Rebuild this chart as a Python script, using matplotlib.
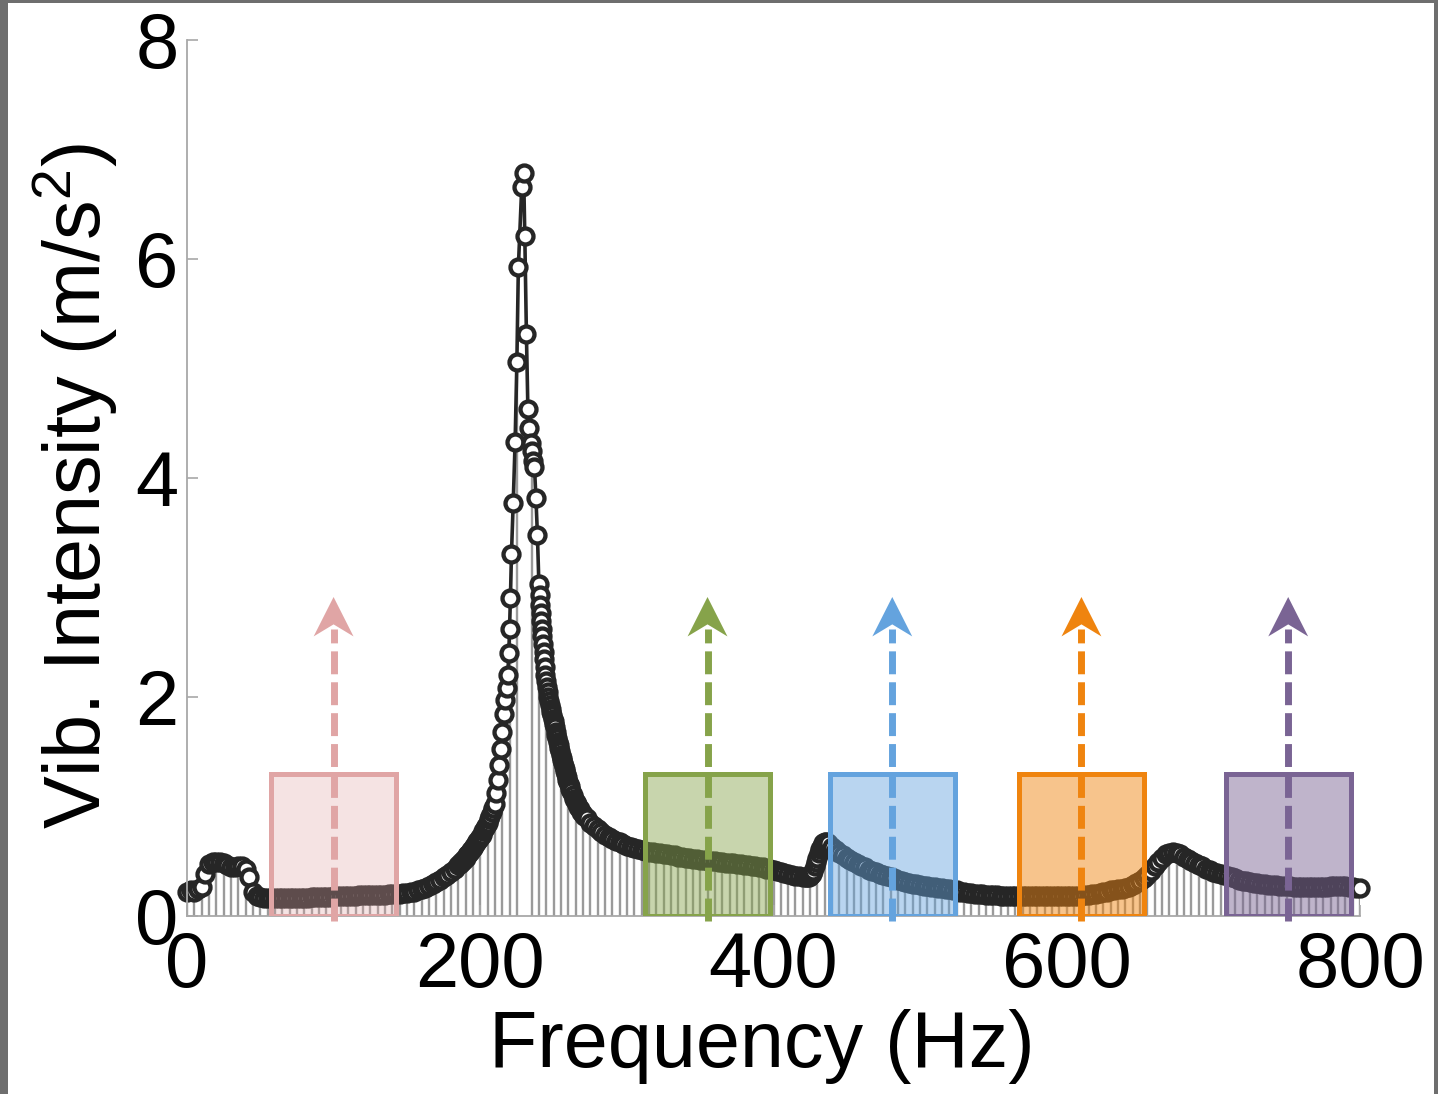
import numpy as np
import matplotlib.pyplot as plt
from matplotlib.patches import Rectangle, Polygon

plt.rcParams['font.family'] = ['Liberation Sans', 'DejaVu Sans']
plt.rcParams['mathtext.fontset'] = 'custom'
plt.rcParams['mathtext.rm'] = 'Liberation Sans'
plt.rcParams['mathtext.it'] = 'Liberation Sans:italic'

# vibration spectrum, values (finer steps where the curve is steep)
freq_a = np.arange(0, 185, 2.5)
vib_a = [0.22, 0.23, 0.22, 0.24, 0.26, 0.38, 0.47, 0.49, 0.49, 0.49,
         0.48, 0.46, 0.44, 0.44, 0.45, 0.45, 0.43, 0.35, 0.22, 0.18,
         0.17, 0.16, 0.16, 0.16, 0.16, 0.16, 0.16, 0.16, 0.16, 0.16,
         0.16, 0.16, 0.16, 0.16, 0.17, 0.17, 0.17, 0.17, 0.17, 0.17,
         0.18, 0.18, 0.18, 0.18, 0.18, 0.18, 0.18, 0.19, 0.19, 0.19,
         0.19, 0.19, 0.19, 0.19, 0.19, 0.20, 0.20, 0.20, 0.20, 0.21,
         0.21, 0.22, 0.22, 0.23, 0.24, 0.25, 0.27, 0.29, 0.31, 0.33,
         0.35, 0.37, 0.40, 0.43]

freq_b = np.arange(185, 210, 1)
vib_b = [0.46, 0.47, 0.49, 0.50, 0.52, 0.53, 0.55, 0.56, 0.58, 0.60,
         0.62, 0.64, 0.66, 0.68, 0.70, 0.72, 0.74, 0.77, 0.80, 0.82,
         0.85, 0.88, 0.91, 0.95, 0.98]

freq_peak = [210, 211, 212, 213, 214, 215, 216, 217, 218, 218.8,
             219.5, 220, 220.6, 221.3, 222.5, 223.8, 225, 226, 228.3, 229.6,
             230.4, 231.5, 232.5, 233.5, 234.5, 235, 236, 237, 238, 239,
             240, 240.5, 240.8, 241.2, 241.6, 242, 242.4, 242.8, 243.2, 243.6,
             244, 244.5, 245, 245.5, 246,
             246.5, 247, 247.5, 248, 248.5, 249, 249.5, 250, 250.5, 251,
             251.5, 252, 252.5, 253, 253.5, 254, 254.5, 255, 255.5, 256,
             256.5, 257, 257.5, 258, 258.5, 259, 259.5, 260, 260.5, 261,
             261.5, 262, 263, 264, 265, 266, 267, 268, 269, 270, 271]
vib_peak = [1.02, 1.12, 1.24, 1.38, 1.52, 1.68, 1.84, 1.97, 2.08, 2.20,
            2.40, 2.62, 2.90, 3.30, 3.77, 4.33, 5.06, 5.92, 6.65, 6.78,
            6.21, 5.31, 4.63, 4.45, 4.32, 4.24, 4.15, 4.10, 3.81, 3.48,
            3.03, 2.93, 2.84, 2.76, 2.69, 2.62, 2.55, 2.48, 2.41, 2.34,
            2.27, 2.20, 2.14, 2.09, 2.04,
            2.00, 1.96, 1.92, 1.89, 1.86, 1.83, 1.80, 1.78, 1.75, 1.72,
            1.68, 1.65, 1.62, 1.59, 1.56, 1.53, 1.50, 1.47, 1.44, 1.42,
            1.39, 1.37, 1.34, 1.32, 1.29, 1.27, 1.24, 1.22, 1.20, 1.18,
            1.16, 1.14, 1.10, 1.07, 1.04, 1.02, 0.99, 0.97, 0.95, 0.93, 0.91]

freq_c = np.arange(272.5, 425, 2.5)
vib_c = [0.89, 0.85, 0.82, 0.79, 0.76, 0.74, 0.72, 0.70, 0.68, 0.67,
         0.65, 0.64, 0.63, 0.62, 0.61, 0.60, 0.59, 0.58, 0.58, 0.57,
         0.57, 0.56, 0.56, 0.55, 0.55, 0.54, 0.54, 0.53, 0.53, 0.52,
         0.52, 0.51, 0.51, 0.50, 0.50, 0.50, 0.49, 0.49, 0.48, 0.48,
         0.48, 0.47, 0.47, 0.46, 0.46, 0.45, 0.45, 0.44, 0.44, 0.43,
         0.43, 0.42, 0.41, 0.40, 0.39, 0.38, 0.37, 0.36, 0.36, 0.35,
         0.35]

freq_d = np.arange(423, 438, 1)
vib_d = [0.35, 0.35, 0.36, 0.38, 0.41, 0.45, 0.49, 0.53, 0.57, 0.61,
         0.64, 0.66, 0.67, 0.67, 0.66]

freq_e = np.arange(440, 800.1, 2.5)
vib_e = [0.63, 0.60, 0.57,
         0.55, 0.53, 0.51, 0.49, 0.47, 0.45, 0.44, 0.42, 0.41, 0.40,
         0.38, 0.37, 0.36, 0.35, 0.34, 0.33, 0.32, 0.31, 0.30, 0.29,
         0.29, 0.28, 0.27, 0.27, 0.26, 0.26, 0.25, 0.25, 0.24, 0.24,
         0.23, 0.23, 0.22, 0.22, 0.21, 0.21, 0.20, 0.20, 0.20, 0.19,
         0.19, 0.19, 0.19, 0.18, 0.18, 0.18, 0.18, 0.18, 0.18, 0.18,
         0.18, 0.18, 0.18, 0.18, 0.18, 0.18, 0.18, 0.18, 0.18, 0.18,
         0.18, 0.18, 0.18, 0.18, 0.18, 0.18, 0.19, 0.19, 0.20, 0.20,
         0.21, 0.22, 0.22, 0.23, 0.23, 0.24, 0.24, 0.25, 0.26, 0.28,
         0.30, 0.32, 0.34, 0.37, 0.41, 0.45, 0.49, 0.53, 0.56, 0.57,
         0.58, 0.57, 0.56, 0.54, 0.52, 0.50, 0.48, 0.46, 0.45, 0.43,
         0.42, 0.40, 0.39, 0.38, 0.37, 0.36, 0.35, 0.34, 0.33, 0.32,
         0.32, 0.31, 0.30, 0.30, 0.29, 0.29, 0.28, 0.28, 0.28, 0.27,
         0.27, 0.27, 0.27, 0.26, 0.26, 0.26, 0.26, 0.26, 0.26, 0.26,
         0.26, 0.26, 0.26, 0.27, 0.27, 0.27, 0.27, 0.27, 0.26, 0.26,
         0.25, 0.25]

freq = np.concatenate([freq_a, freq_b, freq_peak, freq_c, freq_d, freq_e])
vib = np.concatenate([vib_a, vib_b, vib_peak, vib_c, vib_d, vib_e])

# highlighted frequency bands
band_centers = [100, 355, 481, 610, 751]
band_width = 85
band_top = 1.29
arrow_top = 2.91
band_colors = ['#e0a5a5', '#86a34a', '#64a3de', '#ef840f', '#7a6494']
band_alpha = [0.3, 0.45, 0.45, 0.48, 0.48]

fig = plt.figure(figsize=(14.38, 10.94), dpi=100)
ax = fig.add_axes([0.130, 0.163, 0.8158, 0.8008])

# stems, one every 5 Hz
stem = np.isclose(np.mod(freq, 5), 0)
ax.vlines(freq[stem], 0, vib[stem], color='#9a9a9a', lw=1.7, zorder=1)

# curve with open circles
ax.plot(freq, vib, '-o', color='#262626', lw=2.6, ms=11.5, mew=3.1,
        mfc='white', mec='#262626', clip_on=False, zorder=2)

for c, col, a in zip(band_centers, band_colors, band_alpha):
    ax.add_patch(Rectangle((c - band_width / 2, 0), band_width, band_top,
                           facecolor=col, alpha=a, edgecolor='none', zorder=3))
    ax.add_patch(Rectangle((c - band_width / 2, 0), band_width, band_top,
                           facecolor='none', edgecolor=col, lw=3.6, zorder=3.5))
    ax.plot([c, c], [-0.05, 2.62], color=col, lw=5, ls=(0, (3.3, 1.15)),
            dash_capstyle='butt', clip_on=False, zorder=4)
    hw = 13.6
    ax.add_patch(Polygon([(c, arrow_top), (c - hw, arrow_top - 0.36),
                          (c, arrow_top - 0.25), (c + hw, arrow_top - 0.36)],
                         closed=True, facecolor=col, edgecolor='none', zorder=4))

ax.set_xlim(0, 800)
ax.set_ylim(0, 8)
ax.set_xticks([0, 200, 400, 600, 800])
ax.set_yticks([0, 2, 4, 6, 8])
for s in ['top', 'right']:
    ax.spines[s].set_visible(False)
for s in ['left', 'bottom']:
    ax.spines[s].set_color('#a8a8a8')
    ax.spines[s].set_linewidth(1.3)
ax.tick_params(axis='both', direction='in', length=8, width=1.2,
               color='#a8a8a8', labelsize=56)
ax.tick_params(axis='x', pad=10)
ax.tick_params(axis='y', pad=6)

ax.set_xlabel('Frequency (Hz)', fontsize=57)
ax.set_ylabel('Vib. Intensity (m/s$^2$)', fontsize=57)
ax.xaxis.set_label_coords(0.49, -0.107)
ax.yaxis.set_label_coords(-0.057, 0.49)

# dark frame at the image edges
for r in [(0, 0, 8 / 1438, 1), (0, 1 - 3 / 1094, 1, 3 / 1094),
          (1 - 4 / 1438, 0, 4 / 1438, 1)]:
    fig.add_artist(Rectangle(r[:2], r[2], r[3], transform=fig.transFigure,
                             facecolor='#6e6e6e', edgecolor='none'))

fig.savefig('out.png', dpi=100)
